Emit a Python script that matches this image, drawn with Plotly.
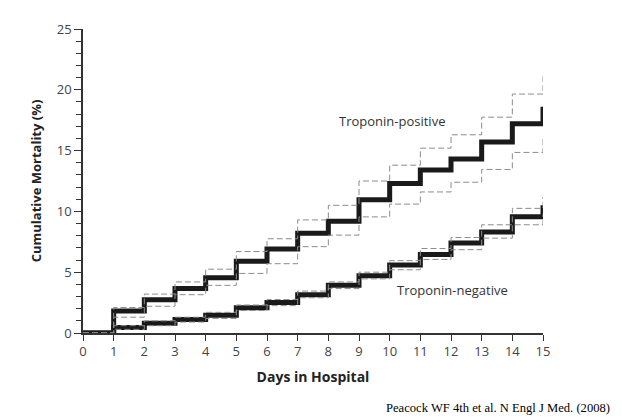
import plotly.graph_objects as go

# Day boundaries (step changes at each integer day; last value is the jump at day 15)
days = list(range(0, 16))

# Troponin-positive: cumulative mortality (%) and 95% CI
pos_mid = [0, 1.8, 2.74, 3.66, 4.55, 5.9, 6.9, 8.2, 9.2, 10.95, 12.3, 13.4, 14.3, 15.7, 17.2, 18.6]
pos_hi = [0, 2.1, 3.2, 4.2, 5.25, 6.7, 7.75, 9.3, 10.5, 12.5, 13.8, 15.2, 16.3, 17.75, 19.65, 21.1]
pos_lo = [0, 1.3, 2.2, 3.15, 3.92, 4.9, 5.7, 7.1, 8.05, 9.55, 10.6, 11.6, 12.4, 13.45, 14.85, 16.0]

# Troponin-negative
neg_mid = [0, 0.45, 0.8, 1.1, 1.45, 2.08, 2.5, 3.15, 3.93, 4.7, 5.6, 6.45, 7.4, 8.3, 9.57, 10.5]
neg_hi = [0, 0.6, 1.0, 1.3, 1.7, 2.3, 2.75, 3.45, 4.2, 5.0, 5.95, 6.95, 7.85, 8.9, 10.25, 11.2]
neg_lo = [0, 0.3, 0.6, 0.9, 1.2, 1.85, 2.25, 2.9, 3.65, 4.45, 5.2, 6.05, 6.85, 7.8, 8.9, 9.8]

x_ticks = list(range(0, 16))
y_ticks = [0, 5, 10, 15, 20, 25]

fig = go.Figure()

for mid in (pos_mid, neg_mid):
    fig.add_trace(go.Scatter(
        x=days, y=mid, mode="lines", line_shape="hv",
        line=dict(color="#1a1a1a", width=5), cliponaxis=False,
        showlegend=False, hoverinfo="skip"))

for ci in (pos_hi, pos_lo, neg_hi, neg_lo):
    fig.add_trace(go.Scatter(
        x=days, y=ci, mode="lines", line_shape="hv",
        line=dict(color="#8c8c8c", width=1, dash="6px,3px"), cliponaxis=False,
        showlegend=False, hoverinfo="skip"))

font_family = "Open Sans"

fig.add_annotation(x=10.07, y=17.4, text="Troponin-positive", showarrow=False,
                   font=dict(family=font_family, size=13, color="#333"))
fig.add_annotation(x=12.06, y=3.52, text="Troponin-negative", showarrow=False,
                   font=dict(family=font_family, size=13, color="#333"))
fig.add_annotation(x=1.0, y=0, xref="paper", yref="paper", xanchor="right",
                   yanchor="middle", xshift=69, yshift=-75,
                   text="Peacock WF 4th et al. N Engl J Med. (2008)", showarrow=False,
                   font=dict(family="Liberation Serif", size=12.6, color="#000"))

# The page body has an 8px default margin, so the figure is offset by 8px.
fig.update_layout(
    width=614, height=411,
    margin=dict(l=75, r=79, t=14, b=86),
    paper_bgcolor="white", plot_bgcolor="white",
    font=dict(family=font_family, size=13, color="#333"),
    xaxis=dict(
        range=[0, 15], tickvals=x_ticks, ticks="outside", ticklen=6,
        tickcolor="#333", showline=True, linecolor="#333", linewidth=1.5,
        showgrid=False, zeroline=False, layer="below traces",
        title=dict(text="<b>Days in Hospital</b>", font=dict(size=14, color="#222"), standoff=13),
        tickfont=dict(size=13, color="#444"),
    ),
    yaxis=dict(
        range=[0, 25], tickvals=y_ticks, ticks="outside", ticklen=7,
        tickcolor="#333", showline=True, linecolor="#333", linewidth=1.5,
        showgrid=False, zeroline=False, layer="below traces",
        minor=dict(dtick=1, ticks="outside", ticklen=5, tickcolor="#333", showgrid=False),
        title=dict(text="<b>Cumulative Mortality (%)</b>", font=dict(size=13, color="#222"), standoff=12),
        tickfont=dict(size=13, color="#444"),
    ),
)

fig.write_html("out.html")
